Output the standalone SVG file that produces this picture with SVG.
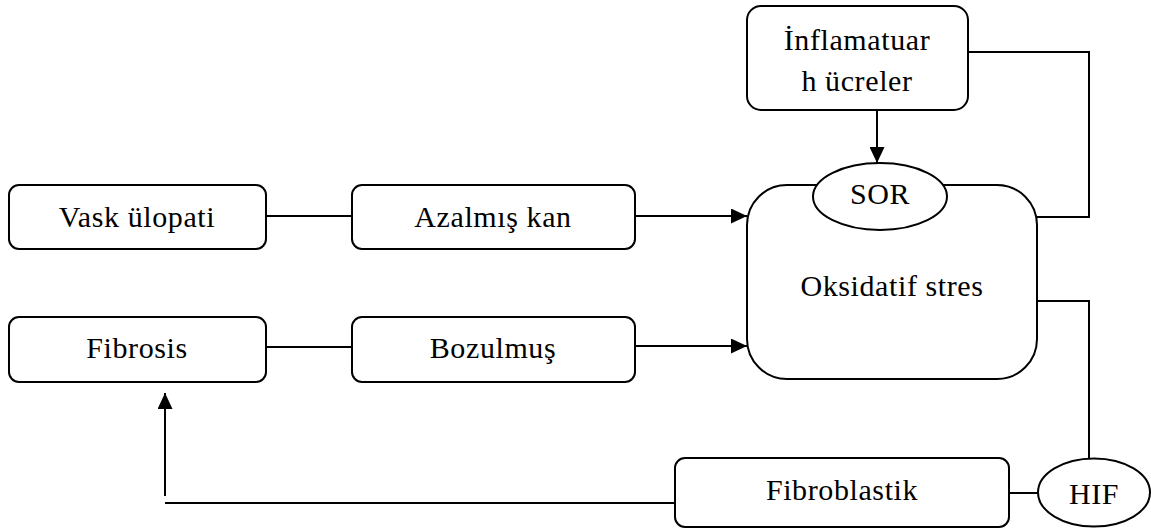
<svg xmlns="http://www.w3.org/2000/svg" width="1151" height="531" viewBox="0 0 1151 531" font-family="Liberation Serif, Times New Roman, serif" font-size="30">
<style>
.box{fill:#fff;stroke:#000;stroke-width:2}
.ln{fill:none;stroke:#000;stroke-width:2}
.t{fill:#000;text-anchor:middle;letter-spacing:0.6px}
</style>
<defs>
<marker id="ah2" viewBox="0 0 16 15" refX="16" refY="7.5" markerWidth="16" markerHeight="15" markerUnits="userSpaceOnUse" orient="auto">
<path d="M0,0 L16,7.5 L0,15 z" fill="#000"/>
</marker>
</defs>
<g id="connectors">
<line class="ln" x1="266" y1="216" x2="352" y2="216"/>
<line class="ln" x1="266" y1="347" x2="352" y2="347"/>
<line class="ln" x1="635" y1="216" x2="747" y2="216" marker-end="url(#ah2)"/>
<line class="ln" x1="635" y1="346" x2="747" y2="346" marker-end="url(#ah2)"/>
<line class="ln" x1="877" y1="110" x2="877" y2="163" marker-end="url(#ah2)"/>
<polyline class="ln" points="968,52 1089,52 1089,217 1037,217"/>
<polyline class="ln" points="1037,301 1089,301 1089,458"/>
<line class="ln" x1="1009" y1="493" x2="1038" y2="493"/>
<polyline class="ln" points="675,503 165,503"/>
<line class="ln" x1="165" y1="496" x2="165" y2="393" marker-end="url(#ah2)"/>
</g>
<g id="vaskulopati"><rect class="box" x="9" y="185" width="257" height="64" rx="10"/><text class="t" x="137" y="227">Vask ülopati</text></g>
<g id="fibrosis"><rect class="box" x="9" y="317" width="257" height="65" rx="10"/><text class="t" x="137" y="358">Fibrosis</text></g>
<g id="azalmis"><rect class="box" x="352" y="185" width="283" height="64" rx="10"/><text class="t" x="493" y="227">Azalmış kan</text></g>
<g id="bozulmus"><rect class="box" x="352" y="317" width="283" height="65" rx="10"/><text class="t" x="493" y="358">Bozulmuş</text></g>
<g id="oksidatif"><rect class="box" x="747" y="185" width="290" height="194" rx="40"/><text class="t" x="892" y="296">Oksidatif stres</text></g>
<g id="sor"><ellipse class="box" cx="880" cy="196.5" rx="67" ry="33.5"/><text class="t" x="880" y="204">SOR</text></g>
<g id="inflamatuar"><rect class="box" x="747" y="6" width="221" height="104" rx="14"/><text class="t" x="857" y="50">İnflamatuar</text><text class="t" x="857" y="91">h ücreler</text></g>
<g id="fibroblastik"><rect class="box" x="675" y="458" width="334" height="69" rx="10"/><text class="t" x="842" y="500">Fibroblastik</text></g>
<g id="hif"><ellipse class="box" cx="1094" cy="492.5" rx="56" ry="34"/><text class="t" x="1094" y="504">HIF</text></g>
</svg>
